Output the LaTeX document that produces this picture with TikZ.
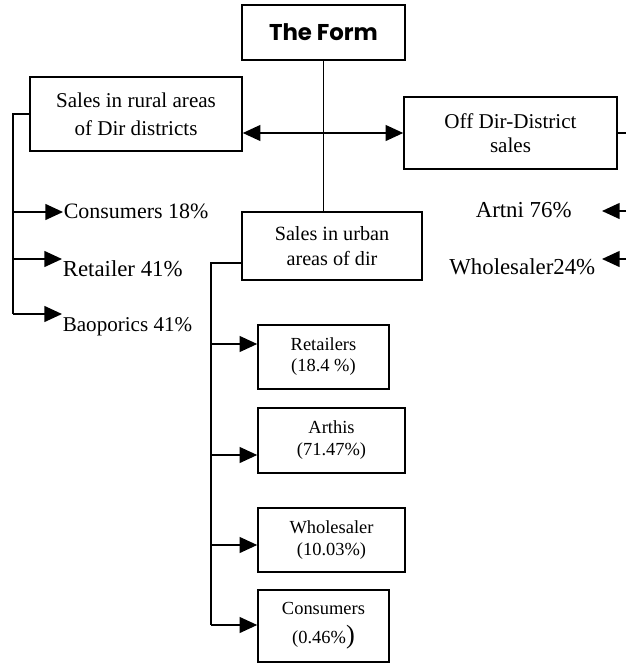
\documentclass[tikz,border=0pt]{standalone}
\usepackage{fontspec}
\setmainfont{Liberation Serif}
\newfontfamily\formfont{Poppins}
\usetikzlibrary{arrows.meta}

\begin{document}
\begin{tikzpicture}[x=0.02cm, y=-0.02cm, line width=0.9pt,
  box/.style={draw, align=center, inner sep=0pt},
  lbl/.style={inner sep=0pt, font=\fontsize{13}{15}\selectfont},
  arr/.style={-{Triangle[length=10pt,width=9pt]}}]
\useasboundingbox (0,0) rectangle (626,663);
% boxes
\node[box, minimum width=3.26cm, minimum height=1.10cm, font=\formfont\bfseries\fontsize{13}{15}\selectfont] (form) at (323.5,32.5) {The Form};
\node[box, minimum width=4.24cm, minimum height=1.48cm, font=\fontsize{12}{16}\selectfont] (rural) at (136,114) {Sales in rural areas\\of Dir districts};
\node[box, minimum width=4.26cm, minimum height=1.44cm, font=\fontsize{12}{14}\selectfont] (off) at (510.5,133) {Off Dir-District\\sales};
\node[box, minimum width=3.60cm, minimum height=1.36cm, font=\fontsize{11.5}{14}\selectfont] (urban) at (332,246) {Sales in urban\\areas of dir};
\node[box, minimum width=2.62cm, minimum height=1.28cm, font=\fontsize{10.5}{12}\selectfont] (retbox) at (323.5,357) {Retailers\\(18.4 \%)};
\node[box, minimum width=2.94cm, minimum height=1.30cm, font=\fontsize{10.5}{12.5}\selectfont] (arthisbox) at (331.5,440.5) {Arthis\\(71.47\%)};
\node[box, minimum width=2.94cm, minimum height=1.28cm, font=\fontsize{10.5}{13}\selectfont] (wslrbox) at (331.5,540) {Wholesaler\\(10.03\%)};
\node[box, minimum width=2.62cm, minimum height=1.44cm, font=\fontsize{10.5}{16.5}\selectfont] (consbox) at (323.5,626) {Consumers\\(0.46\%{\fontsize{15}{15}\selectfont)}};
% labels
\node[lbl, anchor=base west, font=\fontsize{12.5}{15}\selectfont] (conslbl) at (63,218) {Consumers 18\%};
\node[lbl, anchor=base west] (retlbl) at (62,276) {Retailer 41\%};
\node[lbl, anchor=base west, font=\fontsize{12}{14}\selectfont] (baolbl) at (62,331) {Baoporics 41\%};
\node[lbl, anchor=base west] (artnilbl) at (475,217) {Artni 76\%};
\node[lbl, anchor=base east] (wslrlbl) at (596,274) {Wholesaler24\%};
% branch points
\coordinate (lt) at (13,114);
\coordinate (l1) at (13,212);
\coordinate (l2) at (13,259);
\coordinate (l3) at (13,314);
\coordinate (ut) at (211,263);
\coordinate (u1) at (211,344);
\coordinate (u2) at (211,455);
\coordinate (u3) at (211,545);
\coordinate (u4) at (211,625);
\coordinate (r0) at (626,133);
\coordinate (r1) at (626,211);
\coordinate (r2) at (626,259);
\coordinate (a1) at (602,211);
\coordinate (a2) at (602,259);
% connectors
\draw[line width=0.7pt] (form.south) -- (form.south |- urban.north);
\draw[{Triangle[length=10pt,width=9pt]}-{Triangle[length=10pt,width=9pt]}] (rural.east |- off.west) -- (off.west);
\draw (off.east) -- (r0);
\draw[arr] (r1) -- (a1);
\draw[arr] (r2) -- (a2);
\draw (rural.west) -- (lt) -- (l3);
\draw[arr] (l1) -- (l1 -| conslbl.west);
\draw[arr] (l2) -- (l2 -| retlbl.west);
\draw[arr] (l3) -- (l3 -| baolbl.west);
\draw (ut -| urban.west) -- (ut) -- (u4);
\draw[arr] (u1) -- (u1 -| retbox.west);
\draw[arr] (u2) -- (u2 -| arthisbox.west);
\draw[arr] (u3) -- (u3 -| wslrbox.west);
\draw[arr] (u4) -- (u4 -| consbox.west);
\end{tikzpicture}
\end{document}
